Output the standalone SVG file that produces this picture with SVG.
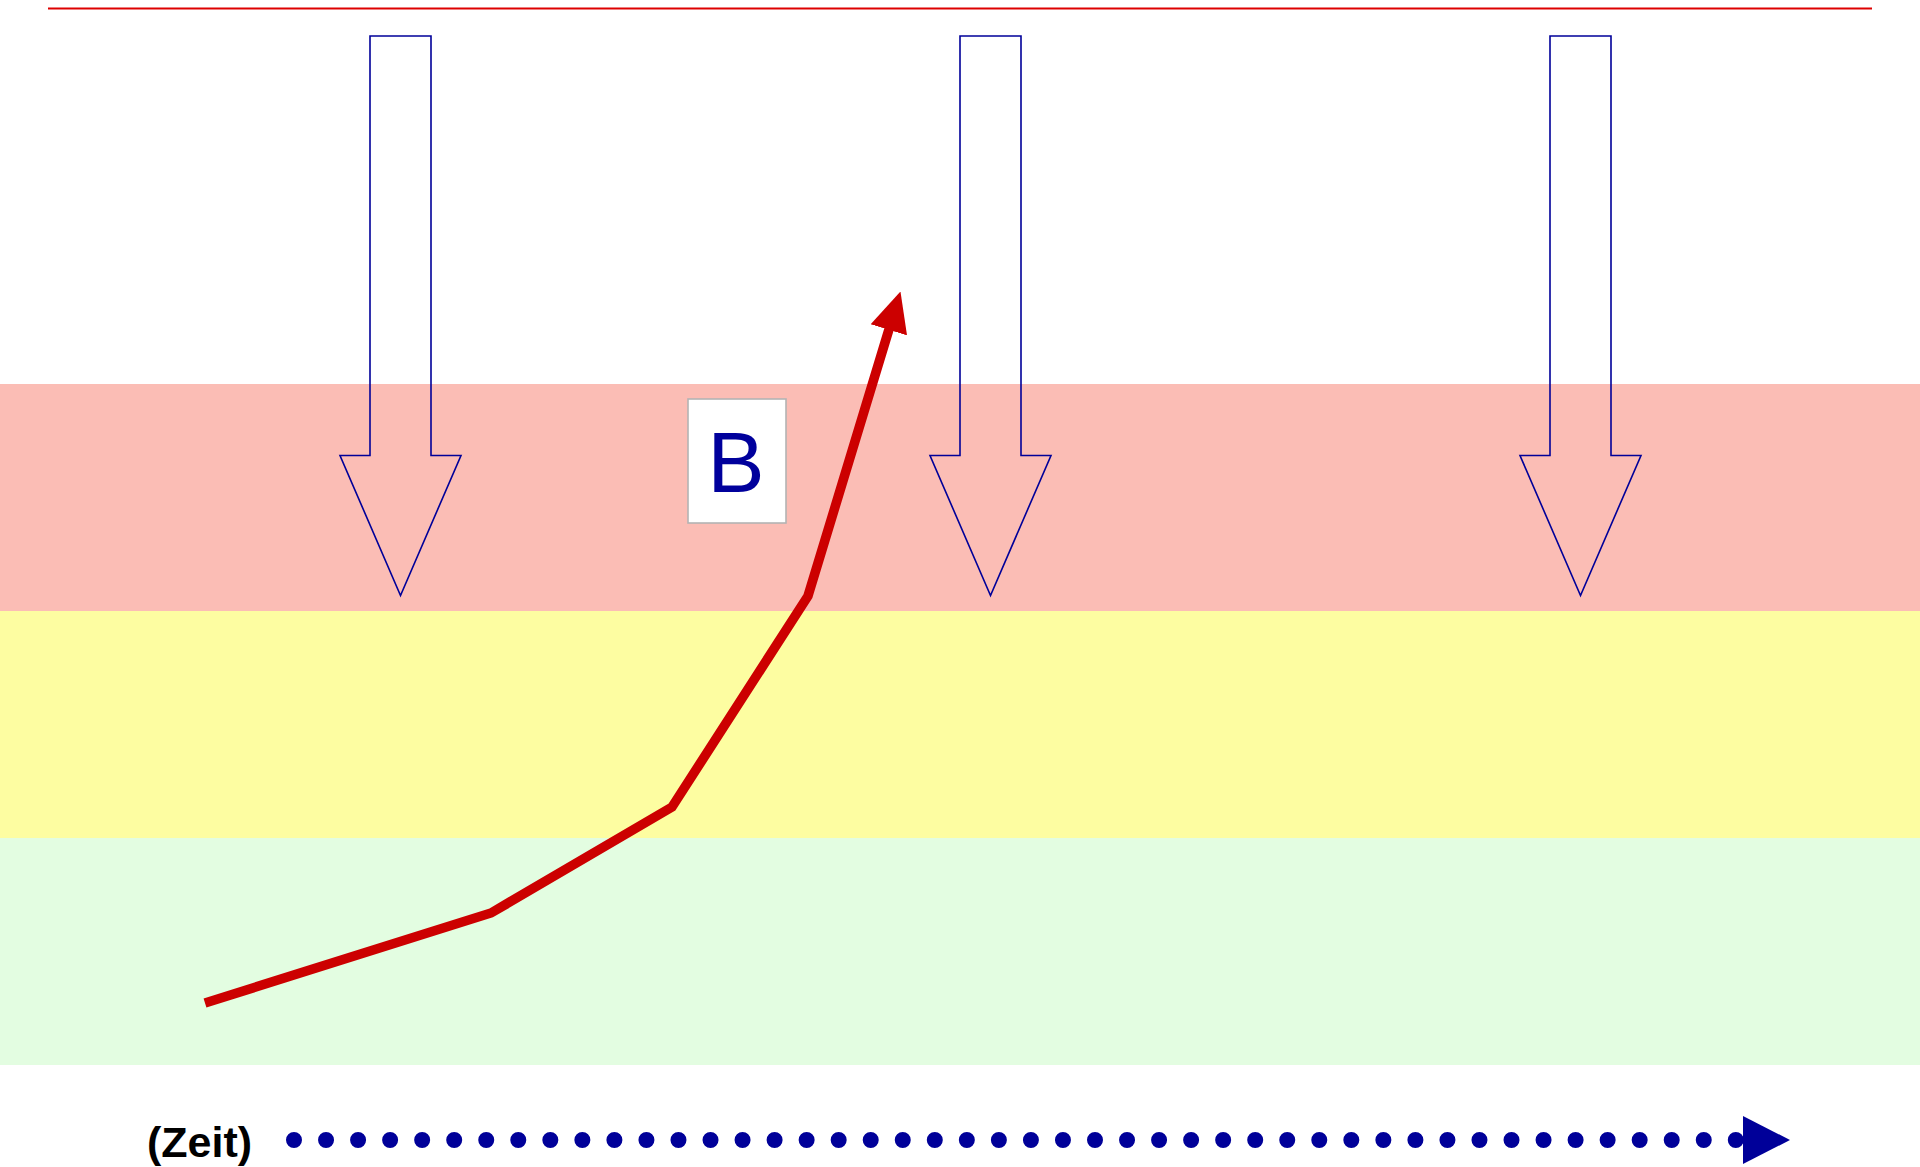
<svg xmlns="http://www.w3.org/2000/svg" width="1920" height="1167" viewBox="0 0 1920 1167">
<defs>
<style>
.band{stroke:none}
.down{fill:none;stroke:#000099;stroke-width:1.6;stroke-linejoin:miter}
.lbl{font-family:"Liberation Sans",Arial,sans-serif}
</style>
<marker id="redhead" markerUnits="userSpaceOnUse" markerWidth="40" markerHeight="40" viewBox="0 0 40 40" refX="4" refY="20" orient="auto">
<path d="M0,1 L40,20 L0,39 Z" fill="#cc0000"/>
</marker>
</defs>
<rect width="1920" height="1167" fill="#ffffff"/>
<g id="bands">
<rect class="band" x="0" y="384" width="1920" height="227" fill="#fbbdb5"/>
<rect class="band" x="0" y="611" width="1920" height="227" fill="#fdfda1"/>
<rect class="band" x="0" y="838" width="1920" height="227" fill="#e3fde1"/>
</g>
<line id="topline" x1="48" y1="8.5" x2="1872" y2="8.5" stroke="#dd0000" stroke-width="2.2"/>
<g id="arrow1"><path class="down" d="M370,36 L431,36 L431,455.5 L461,455.5 L400.5,595.5 L340,455.5 L370,455.5 Z"/></g>
<g id="arrow2"><path class="down" d="M960,36 L1021,36 L1021,455.5 L1051,455.5 L990.5,595.5 L930,455.5 L960,455.5 Z"/></g>
<g id="arrow3"><path class="down" d="M1550,36 L1611,36 L1611,455.5 L1641,455.5 L1580.5,595.5 L1520,455.5 L1550,455.5 Z"/></g>
<g id="nodeB">
<rect x="688" y="399" width="98" height="124" fill="#ffffff" stroke="#b3b3b3" stroke-width="1.6"/>
<text class="lbl" x="736" y="492" font-size="86" fill="#00009c" text-anchor="middle">B</text>
</g>
<g id="connectors">
<polyline points="205,1003 491,913 672,807 808,596 890,326" fill="none" stroke="#cc0000" stroke-width="9.5" stroke-linejoin="miter" marker-end="url(#redhead)"/>
<line x1="294" y1="1140" x2="1736" y2="1140" stroke="#000099" stroke-width="16" stroke-linecap="round" stroke-dasharray="0 32.04"/>
<path d="M1743,1116 L1790,1140 L1743,1164 Z" fill="#000099"/>
</g>
<g id="timelabel">
<text class="lbl" x="147" y="1157" font-size="43" font-weight="bold" fill="#000000">(Zeit)</text>
</g>
</svg>
